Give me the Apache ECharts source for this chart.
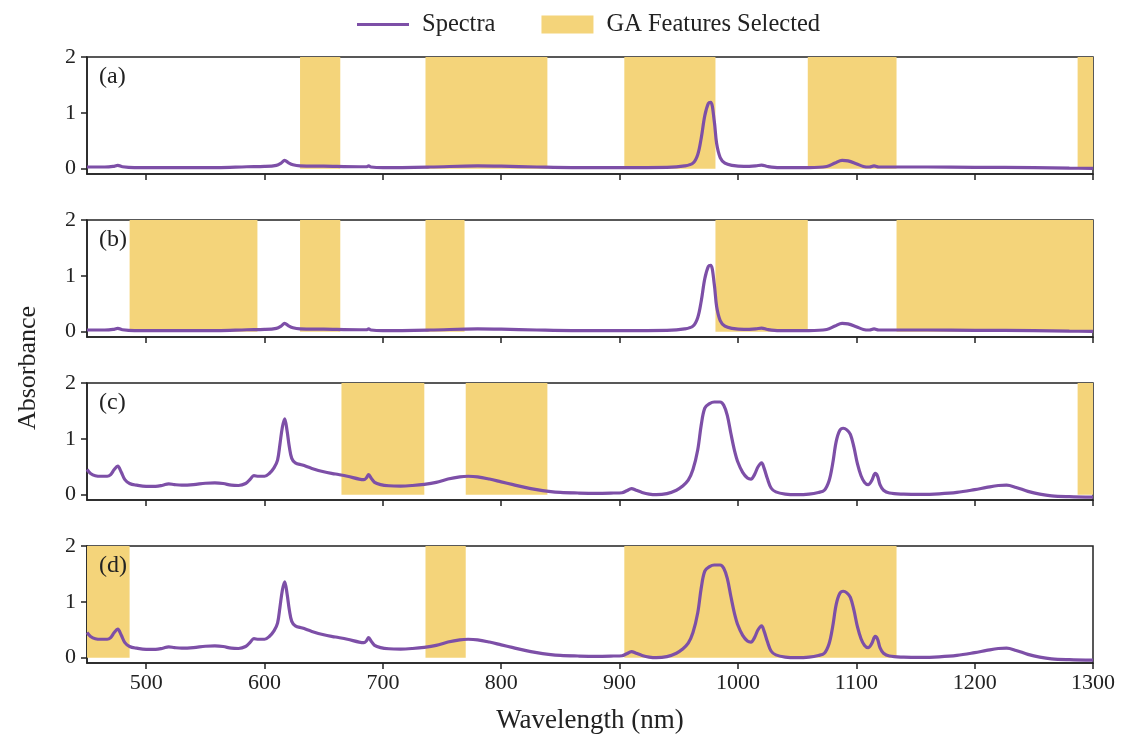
<!DOCTYPE html>
<html>
<head>
<meta charset="utf-8">
<script src="https://cdn.jsdelivr.net/npm/echarts@6/dist/echarts.min.js"></script>
<style>html,body{margin:0;padding:0;background:#fff}#c{width:1121px;height:736px}</style>
</head>
<body>
<div id="c"></div>
<script>
// Spectrum used in panels (a) and (b)
const wavelengthsA = [450,465,472,476,480,490,520,560,585,600,610,614,617,620,624,630,650,680,686,688,690,700,740,780,800,830,860,900,940,955,962,966,969,972,975,977,980,982,985,989,995,1005,1015,1020,1025,1035,1060,1075,1082,1088,1093,1100,1106,1111,1115,1119,1130,1160,1200,1250,1280,1300];
const absorbanceA  = [0.03,0.03,0.04,0.06,0.035,0.02,0.02,0.02,0.035,0.04,0.06,0.1,0.15,0.11,0.07,0.05,0.045,0.035,0.035,0.05,0.03,0.02,0.03,0.05,0.045,0.03,0.02,0.02,0.025,0.05,0.1,0.25,0.55,0.95,1.17,1.19,0.85,0.45,0.2,0.1,0.06,0.04,0.05,0.065,0.04,0.02,0.02,0.04,0.1,0.15,0.14,0.09,0.04,0.03,0.05,0.03,0.03,0.03,0.025,0.02,0.01,0.005];

// Spectrum used in panels (c) and (d)
const wavelengthsC = [450,453,457,462,467,470,473,476,479,482,486,492,500,508,514,519,524,530,540,550,558,565,572,578,584,588,591,595,600,604,608,611,613,615,617,619,621,623,626,632,640,650,660,670,680,684,686,688,690,693,698,705,715,725,735,745,755,765,772,780,790,800,810,820,830,840,850,865,880,895,902,906,910,914,919,925,931,940,948,953,958,962,966,969,972,976,980,985,988,991,994,997,1000,1004,1008,1011,1014,1017,1020,1022,1025,1028,1032,1040,1050,1060,1068,1073,1077,1080,1083,1086,1089,1092,1095,1098,1101,1104,1107,1110,1113,1116,1118,1120,1123,1128,1140,1155,1170,1185,1200,1210,1220,1227,1235,1245,1255,1265,1280,1300];
const absorbanceC  = [0.45,0.38,0.34,0.33,0.33,0.36,0.45,0.51,0.40,0.27,0.2,0.17,0.15,0.15,0.17,0.195,0.18,0.17,0.18,0.205,0.21,0.2,0.17,0.165,0.2,0.28,0.34,0.33,0.33,0.38,0.48,0.62,0.9,1.2,1.36,1.15,0.85,0.65,0.57,0.53,0.47,0.41,0.37,0.33,0.28,0.27,0.3,0.36,0.3,0.22,0.18,0.16,0.155,0.165,0.185,0.22,0.28,0.32,0.33,0.32,0.28,0.23,0.18,0.13,0.09,0.06,0.04,0.03,0.025,0.03,0.035,0.07,0.11,0.08,0.04,0.01,0.0,0.02,0.08,0.15,0.26,0.45,0.8,1.25,1.55,1.63,1.66,1.66,1.6,1.42,1.1,0.8,0.58,0.4,0.3,0.28,0.36,0.5,0.57,0.48,0.28,0.12,0.05,0.01,0.0,0.01,0.04,0.08,0.25,0.55,0.95,1.15,1.19,1.16,1.08,0.85,0.55,0.34,0.22,0.18,0.25,0.38,0.33,0.18,0.08,0.03,0.01,0.005,0.015,0.04,0.09,0.13,0.165,0.17,0.13,0.06,0.01,-0.02,-0.035,-0.045];

// GA selected feature ranges (nm) per panel
const regionsA = [[630,664],[736,839],[904,981],[1059,1134],[1287,1300]];
const regionsB = [[486,594],[630,664],[736,769],[981,1059],[1134,1300]];
const regionsC = [[665,735],[770,839],[1287,1300]];
const regionsD = [[450,486],[736,770],[904,1134]];

const panelLabels = ['(a)','(b)','(c)','(d)'];
const xTicks = [500,600,700,800,900,1000,1100,1200,1300];
const yTicks = [0,1,2];

const lineColor = '#7D4FA7';
const shadeColor = '#F4D47A';
const axisColor = '#222';
const serif = '"Liberation Serif","DejaVu Serif",serif';

const panelTops = [57,220,383,546];
const panelHeight = 117;

const spectraSets = [
  [wavelengthsA, absorbanceA],
  [wavelengthsA, absorbanceA],
  [wavelengthsC, absorbanceC],
  [wavelengthsC, absorbanceC]
];
const regionSets = [regionsA, regionsB, regionsC, regionsD];

const grids = [], xAxes = [], yAxes = [], series = [], titles = [];
for (let i = 0; i < 4; i++) {
  grids.push({left: 87, right: 28, top: panelTops[i], height: panelHeight,
    show: true, borderColor: axisColor, borderWidth: 1.5, backgroundColor: 'transparent'});
  const isBottom = i === 3;
  xAxes.push({
    type: 'value', gridIndex: i, min: 450, max: 1300,
    axisLine: {show: true, onZero: false, lineStyle: {color: axisColor, width: 1.5}},
    axisTick: {show: true, length: 6, customValues: xTicks, lineStyle: {color: axisColor, width: 1.5}},
    axisLabel: {show: isBottom, customValues: xTicks, margin: 9, color: axisColor, fontFamily: serif, fontSize: 22,
      formatter: v => String(v)},
    splitLine: {show: false},
    name: isBottom ? 'Wavelength (nm)' : '',
    nameLocation: 'middle', nameGap: 44,
    nameTextStyle: {color: axisColor, fontFamily: serif, fontSize: 27}
  });
  yAxes.push({
    type: 'value', gridIndex: i, min: -0.095, max: 2,
    axisLine: {show: true, lineStyle: {color: axisColor, width: 1.5}},
    axisTick: {show: true, length: 6, customValues: yTicks, lineStyle: {color: axisColor, width: 1.5}},
    axisLabel: {customValues: yTicks, margin: 11, color: axisColor, fontFamily: serif, fontSize: 22},
    splitLine: {show: false}
  });
  const regs = regionSets[i];
  series.push({
    name: 'GA Features Selected', type: 'custom', xAxisIndex: i, yAxisIndex: i,
    itemStyle: {color: shadeColor}, z: 1, silent: true,
    encode: {x: [0, 1]},
    data: regs,
    renderItem: function (params, api) {
      const x0 = api.value(0), x1 = api.value(1);
      const p00 = api.coord([x0, 0]), p10 = api.coord([x1, 0]);
      const p11 = api.coord([x1, 2]), p01 = api.coord([x0, 2]);
      return {type: 'polygon', shape: {points: [p00, p10, p11, p01]}, style: {fill: shadeColor}};
    }
  });
  const [wl, ab] = spectraSets[i];
  series.push({
    name: 'Spectra', type: 'line', xAxisIndex: i, yAxisIndex: i,
    data: wl.map((w, k) => [w, ab[k]]),
    showSymbol: false, symbol: 'none', smooth: 0.35, z: 3,
    lineStyle: {color: lineColor, width: 3.2}, itemStyle: {color: lineColor}
  });
  titles.push({text: panelLabels[i], left: 94, top: panelTops[i] + 3,
    textStyle: {fontFamily: serif, fontSize: 24, fontWeight: 'normal', color: axisColor}});
}

const chart = echarts.init(document.getElementById('c'), null, {renderer: 'canvas'});
chart.setOption({
  animation: false,
  backgroundColor: '#fff',
  title: titles,
  legend: {
    left: 352, top: 7, itemWidth: 52, itemHeight: 18, itemGap: 46,
    textStyle: {fontFamily: serif, fontSize: 24.5, color: axisColor, padding: [0, 0, 0, 8]},
    data: [
      {name: 'Spectra', icon: 'path://M0,0 M52,18 M0,7.5 L52,7.5 L52,10.5 L0,10.5 Z', itemStyle: {color: lineColor}},
      {name: 'GA Features Selected', icon: 'rect'}
    ]
  },
  grid: grids, xAxis: xAxes, yAxis: yAxes, series: series,
  graphic: [{
    type: 'text', left: 15, top: 'middle', rotation: Math.PI / 2,
    style: {text: 'Absorbance', fontFamily: serif, fontSize: 26, fill: axisColor}
  }]
});
</script>
</body>
</html>
